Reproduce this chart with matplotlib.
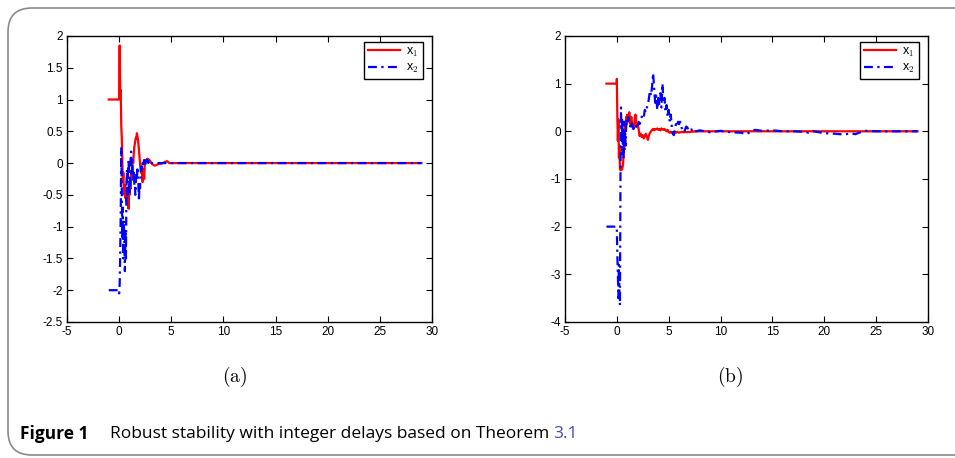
import matplotlib
matplotlib.use('Agg')
from matplotlib import pyplot as plt
from matplotlib.patches import FancyBboxPatch

plt.rcParams['axes.unicode_minus'] = False
plt.rcParams['mathtext.fontset'] = 'cm'
plt.rcParams['font.family'] = ['Liberation Sans', 'DejaVu Sans']

# panel (a): time and states (history on [-1, 0], then the response)
t_a = [-1, 0.0, 0.0, 0.05, 0.10, 0.15, 0.20, 0.25, 0.30, 0.35, 0.40, 0.45,
       0.50, 0.55, 0.60, 0.65, 0.70, 0.75, 0.80, 0.85, 0.90, 0.95,
       1.00, 1.05, 1.10, 1.15, 1.20, 1.25, 1.30, 1.35, 1.40, 1.45,
       1.50, 1.55, 1.60, 1.65, 1.70, 1.75, 1.80, 1.85, 1.90, 1.95,
       2.00, 2.05, 2.10, 2.15, 2.20, 2.25, 2.30, 2.35, 2.40, 2.45,
       2.50, 2.55, 2.60, 2.65, 2.70, 2.75, 2.80, 2.85, 2.90, 2.95,
       3.00, 3.2, 3.4, 3.6, 3.8, 4.0, 4.2, 4.4, 4.6, 4.8, 5.0, 29]
x1_a = [1.0, 1.0, 1.2, 1.85, 1.1, 1.15, 0.6, 0.4, 0.05, -0.3, -0.15, -0.45,
        -0.5, -0.35, -0.55, -0.45, -0.6, -0.4, -0.5, -0.55, -0.72, -0.45,
        -0.5, -0.3, -0.4, -0.15, -0.25, -0.05, 0.05, 0.0, 0.15, 0.25,
        0.3, 0.35, 0.4, 0.38, 0.47, 0.42, 0.38, 0.3, 0.2, 0.1,
        0.0, -0.1, -0.15, -0.1, -0.2, -0.3, -0.2, -0.1, -0.25, -0.05,
        0.0, 0.05, 0.03, 0.05, 0.07, 0.04, 0.06, 0.05, 0.03, 0.04,
        0.02, -0.02, -0.04, -0.03, -0.01, -0.01, 0.0, 0.02, 0.03, 0.0, 0.0, 0.0]
x2_a = [-2.0, -2.0, -2.05, -1.9, -1.4, -0.8, 0.25, -0.4, -1.2, -0.7, -1.5, -0.9,
        -1.3, -1.7, -1.1, -1.5, -0.3, -0.1, -0.5, -0.1, 0.05, -0.2,
        -0.5, -0.3, 0.1, 0.18, -0.2, 0.05, -0.1, -0.3, -0.15, -0.35,
        -0.2, -0.5, -0.3, -0.15, -0.25, -0.1, -0.2, -0.35, -0.6, -0.3,
        -0.4, -0.2, -0.15, -0.05, -0.1, 0.0, -0.05, 0.02, 0.05, 0.02,
        -0.05, 0.03, 0.0, 0.05, 0.02, 0.04, 0.0, 0.03, 0.02, 0.0,
        0.01, 0.0, 0.0, 0.0, 0.0, 0.0, 0.0, 0.0, 0.0, 0.0, 0.0, 0.0]

# panel (b): time and states
t_b = [-1, 0.0, 0.0, 0.05, 0.10, 0.15, 0.20, 0.25, 0.30, 0.35, 0.40, 0.45,
       0.50, 0.55, 0.60, 0.65, 0.70, 0.75, 0.80, 0.85, 0.90, 0.95, 1.00,
       1.1, 1.2, 1.3, 1.4, 1.5, 1.6, 1.7, 1.8, 1.9, 2.0,
       2.1, 2.2, 2.3, 2.4, 2.5, 2.6, 2.7, 2.8, 2.9, 3.0,
       3.1, 3.2, 3.3, 3.4, 3.5, 3.6, 3.7, 3.8, 3.9, 4.0,
       4.1, 4.2, 4.3, 4.4, 4.5, 4.6, 4.7, 4.8, 4.9, 5.0,
       5.1, 5.2, 5.3, 5.4, 5.5, 5.6, 5.7, 5.8, 5.9, 6.0,
       6.1, 6.2, 6.3, 6.4, 6.5, 6.6, 6.7, 6.8, 6.9, 7.0,
       7.1, 7.2, 7.3, 7.4, 7.5,
       8, 9, 10, 11, 12, 12.5, 13, 13.3, 14, 15, 16, 17, 18, 18.5,
       19, 20, 21, 22, 22.5, 23, 23.5, 24, 25, 26, 27, 28, 29]
x1_b = [1.0, 1.0, 1.1, 0.3, -0.2, 0.25, -0.55, -0.3, -0.8, -0.75, -0.82, -0.78,
        -0.8, -0.75, -0.7, -0.5, -0.3, 0.0, 0.2, 0.1, 0.3, 0.15, 0.35,
        0.2, 0.4, 0.15, 0.3, 0.1, 0.05, 0.2, 0.35, 0.1, 0.15,
        0.05, -0.1, -0.05, -0.12, -0.08, -0.15, -0.1, -0.05, -0.12, -0.18,
        -0.08, -0.03, 0.0, 0.03, 0.05, 0.02, 0.05, 0.04, 0.06, 0.03,
        0.05, 0.02, 0.06, 0.04, 0.03, 0.05, 0.02, 0.0, 0.03, -0.02,
        -0.03, -0.01, -0.03, -0.02, -0.03, -0.02, -0.03, -0.01, -0.02, -0.03,
        -0.02, -0.02, -0.01, -0.02, -0.02, -0.01, -0.02, -0.02, -0.01, -0.02,
        -0.01, -0.01, 0.0, -0.01, 0.0,
        0.0, 0.0, 0.0, 0.0, 0.0, 0.0, 0.0, 0.0, 0.0, 0.0, 0.0, 0.0, 0.0, 0.0,
        0.0, 0.0, 0.0, 0.0, 0.0, 0.0, 0.0, 0.0, 0.0, 0.0, 0.0, 0.0, 0.0]
x2_b = [-2.0, -2.0, -2.0, -2.6, -3.0, -3.5, -2.8, -3.4, -3.65, -1.0, 0.5, -0.2,
        0.3, -0.5, 0.1, -0.55, 0.2, -0.4, 0.0, -0.3, 0.1, 0.25, 0.15,
        0.3, 0.2, 0.1, 0.2, 0.1, 0.05, 0.1, 0.05, 0.15, 0.1,
        0.2, 0.15, 0.25, 0.3, 0.35, 0.3, 0.45, 0.4, 0.5, 0.55,
        0.7, 0.85, 0.75, 0.95, 1.22, 0.9, 0.6, 0.75, 0.45, 0.7,
        0.55, 0.8, 0.5, 1.0, 0.6, 0.7, 0.4, 0.55, 0.3, 0.45,
        0.2, 0.35, 0.1, -0.05, -0.08, 0.05, 0.15, 0.1, 0.2, 0.15,
        0.2, 0.1, 0.05, 0.0, -0.02, 0.05, 0.1, 0.08, 0.03, 0.05,
        0.02, 0.04, 0.0, 0.02, -0.01,
        0.02, -0.02, 0.01, -0.02, -0.03, -0.06, 0.0, 0.03, 0.01, 0.02, 0.0, 0.0, -0.01, -0.03,
        0.0, -0.04, -0.05, -0.07, -0.04, -0.06, -0.02, 0.01, 0.0, 0.0, 0.0, 0.0, 0.0]

xticks = [-5, 0, 5, 10, 15, 20, 25, 30]
yticks_a = [-2.5, -2, -1.5, -1, -0.5, 0, 0.5, 1, 1.5, 2]
yticks_b = [-4, -3, -2, -1, 0, 1, 2]


def draw_panel(ax, t, x1, x2, yticks):
    ax.plot(t, x1, color='#ff0000', lw=1.6, label='x$_1$')
    ax.plot(t, x2, color='#0000ff', lw=1.6, dashes=(4, 2, 1, 2), label='x$_2$')
    ax.set_xlim(-5, 30)
    ax.set_ylim(yticks[0], yticks[-1])
    ax.set_xticks(xticks)
    ax.set_yticks(yticks)
    ax.set_yticklabels(['{:g}'.format(v) for v in yticks])
    ax.tick_params(direction='in', top=True, right=True, length=4,
                   width=0.8, labelsize=8.5, pad=3)
    for s in ax.spines.values():
        s.set_linewidth(1.0)
    leg = ax.legend(loc='upper right', bbox_to_anchor=(0.975, 0.98),
                    borderaxespad=0, fancybox=False, framealpha=1,
                    edgecolor='black', fontsize=9, handlelength=2.6,
                    handletextpad=0.5, borderpad=0.3, labelspacing=0.3)
    leg.get_frame().set_linewidth(1.0)


fig = plt.figure(figsize=(9.55, 4.58), dpi=100)
ax_a = fig.add_axes([0.0702, 0.297, 0.382, 0.6245])
ax_b = fig.add_axes([0.5916, 0.297, 0.380, 0.6245])
draw_panel(ax_a, t_a, x1_a, x2_a, yticks_a)
draw_panel(ax_b, t_b, x1_b, x2_b, yticks_b)

fig.text(235 / 955, 1 - 377 / 458, r'$\mathrm{(a)}$', ha='center', va='center', fontsize=14)
fig.text(730 / 955, 1 - 377 / 458, r'$\mathrm{(b)}$', ha='center', va='center', fontsize=14)

# caption, pieces placed one after another
cap_y = 1 - 434 / 458
cap_font = ['Open Sans', 'DejaVu Sans']
renderer = fig.canvas.get_renderer()
t1 = fig.text(20 / 955, cap_y, 'Figure 1', fontsize=12.5, fontweight='bold',
              family=cap_font, va='center')
t2 = fig.text(110 / 955, cap_y, 'Robust stability with integer delays based on Theorem',
              fontsize=12.5, family=cap_font, va='center')
x_end = t2.get_window_extent(renderer).x1
fig.text((x_end + 4) / 955, cap_y, '3.1', fontsize=12.5, color='#3b4bc8',
         family=cap_font, va='center')

# rounded frame around the figure
frame = FancyBboxPatch((8 / 955, 3 / 458), 1.2, 447 / 458,
                       boxstyle='round,pad=0,rounding_size=0.025',
                       transform=fig.transFigure, fill=False,
                       edgecolor='#8a8a8a', lw=1.2, clip_on=False,
                       mutation_aspect=955 / 458)
fig.patches.append(frame)

fig.savefig('out.png', dpi=100)
